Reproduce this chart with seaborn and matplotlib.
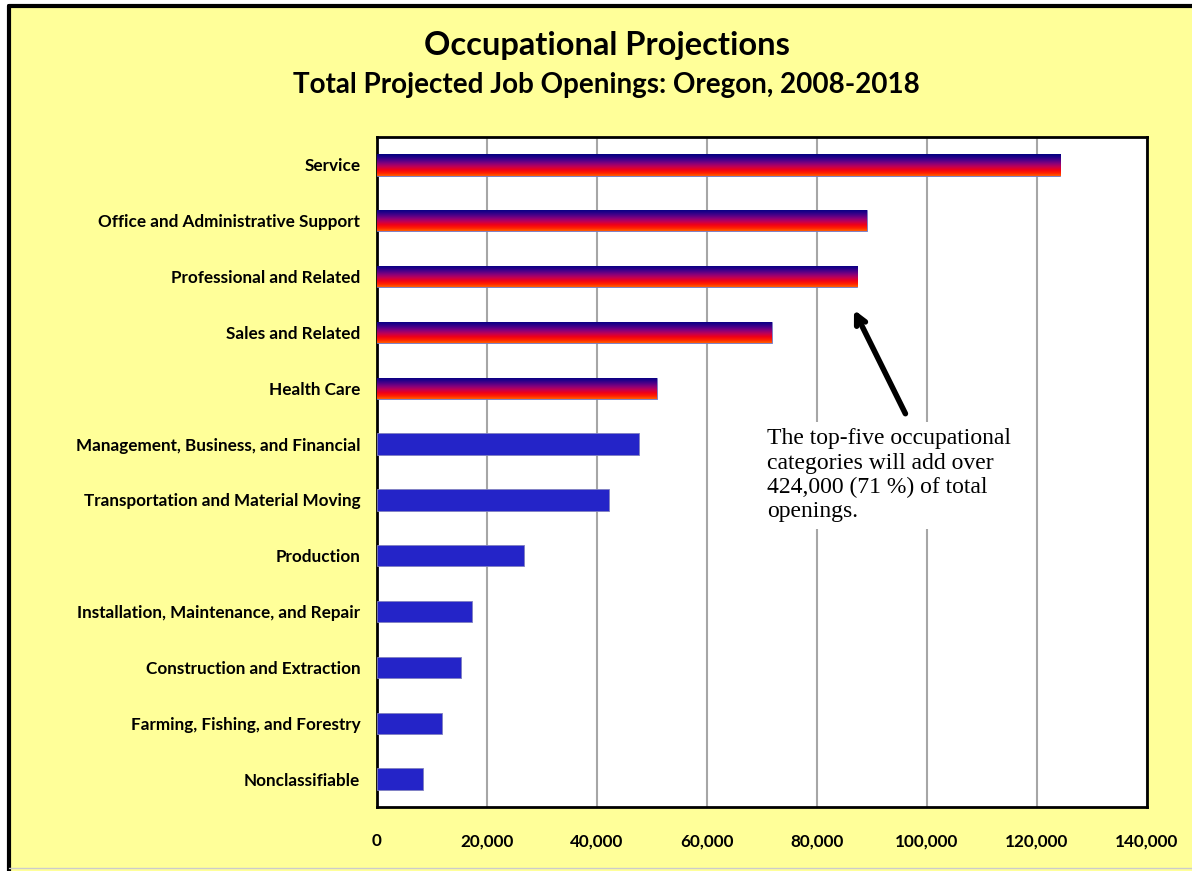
import numpy as np
import pandas as pd
import seaborn as sns
import matplotlib.pyplot as plt
from matplotlib.colors import LinearSegmentedColormap
from matplotlib.patches import Rectangle
from matplotlib.lines import Line2D

# Dados (aberturas de vagas projetadas, Oregon 2008-2018)
categorias = [
    'Service',
    'Office and Administrative Support',
    'Professional and Related',
    'Sales and Related',
    'Health Care',
    'Management, Business, and Financial',
    'Transportation and Material Moving',
    'Production',
    'Installation, Maintenance, and Repair',
    'Construction and Extraction',
    'Farming, Fishing, and Forestry',
    'Nonclassifiable',
]
vagas = [124200, 89000, 87300, 71800, 50900, 47600, 42200, 26700, 17300, 15300, 11800, 8400]
top_cinco = 5
ticks_x = [0, 20000, 40000, 60000, 80000, 100000, 120000, 140000]

df = pd.DataFrame({'categoria': categorias, 'vagas': vagas})

amarelo = '#FFFF99'
azul = '#2424C8'
cores = [azul] * len(categorias)

sns.set_style('white')
plt.rcParams['font.family'] = ['Lato', 'DejaVu Sans']
plt.rcParams['text.color'] = 'black'
plt.rcParams['xtick.color'] = 'black'
plt.rcParams['ytick.color'] = 'black'

fig = plt.figure(figsize=(11.92, 8.71), dpi=100, facecolor='white')

# Fundo amarelo com borda
fig.patches.append(Rectangle((9 / 1192, 0), 1, 1 - 6 / 871, transform=fig.transFigure,
                             facecolor=amarelo, edgecolor='none', zorder=-10))
fig.lines.append(Line2D([9 / 1192, 9 / 1192], [0, 1 - 6 / 871], transform=fig.transFigure,
                        color='black', lw=3))
fig.lines.append(Line2D([9 / 1192, 1], [1 - 6 / 871, 1 - 6 / 871], transform=fig.transFigure,
                        color='black', lw=3))
fig.lines.append(Line2D([9 / 1192, 1], [3 / 871, 3 / 871], transform=fig.transFigure,
                        color='#CCCCCC', lw=1))

ax = fig.add_axes([377 / 1192, 1 - 807 / 871, 770 / 1192, 670 / 871])
ax.set_facecolor('white')

sns.barplot(data=df, x='vagas', y='categoria', hue='categoria', palette=cores,
            legend=False, orient='h', width=0.38, ax=ax, zorder=3, saturation=1,
            edgecolor='#8080C0', linewidth=0.6)

# Degradê para as cinco maiores
cmap = LinearSegmentedColormap.from_list(
    'grad', ['#000080', '#200088', '#500088', '#88007A', '#C00055', '#F00018', '#FF2000', '#FF6000'])
grad = np.linspace(0, 1, 256).reshape(-1, 1)
for patch in ax.patches[:top_cinco]:
    x0, y0 = patch.get_x(), patch.get_y()
    w, h = patch.get_width(), patch.get_height()
    im = ax.imshow(grad, cmap=cmap, aspect='auto', extent=[x0, x0 + w, y0 + h, y0],
                   origin='upper', zorder=4, interpolation='bilinear')
    im.set_clip_path(patch)

ax.set_xlim(0, 140000)
ax.set_ylim(len(categorias) - 0.5, -0.5)
ax.set_xticks(ticks_x)
ax.set_xticklabels([f'{t:,}' for t in ticks_x], fontsize=12.3, fontweight='bold')
ax.set_yticks(range(len(categorias)))
ax.set_yticklabels(categorias, fontsize=12.3, fontweight='bold')
ax.tick_params(axis='x', length=0, pad=19)
ax.tick_params(axis='y', length=0, pad=12)
ax.set_xlabel('')
ax.set_ylabel('')
ax.grid(axis='x', color='#A6A6A6', lw=1.5, zorder=0)
ax.set_axisbelow(True)
for lado in ax.spines.values():
    lado.set_color('black')
    lado.set_linewidth(2)
    lado.set_visible(True)

# Títulos
fig.text(607 / 1192, 1 - 45 / 871, 'Occupational Projections', ha='center', va='center',
         fontsize=23.5, fontweight='bold')
fig.text(606 / 1192, 1 - 85 / 871, 'Total Projected Job Openings: Oregon, 2008-2018',
         ha='center', va='center', fontsize=20, fontweight='bold')

# Anotação com seta
ax.annotate('', xy=(86500, 2.55), xytext=(96300, 4.5),
            arrowprops=dict(arrowstyle='->,head_length=0.7,head_width=0.35',
                            color='black', lw=4), zorder=6)
ax.text(70900, 4.72, 'The top-five occupational\ncategories will add over\n'
        '424,000 (71 %) of total\nopenings.', ha='left', va='top', fontsize=17,
        family=['Liberation Serif', 'DejaVu Serif'], linespacing=1.2, zorder=6,
        bbox=dict(facecolor='white', edgecolor='none', pad=5))

plt.savefig('out.png', dpi=100, facecolor=fig.get_facecolor())
